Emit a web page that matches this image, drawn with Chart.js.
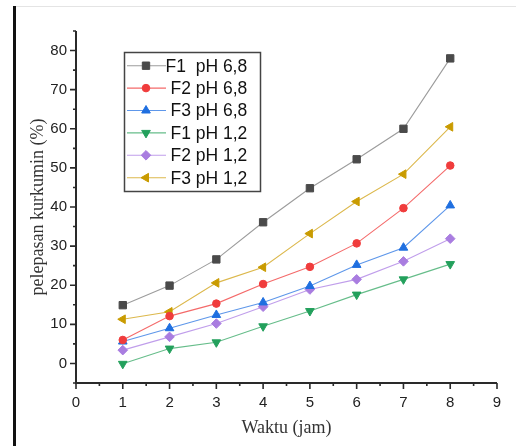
<!DOCTYPE html>
<html>
<head>
<meta charset="utf-8">
<script src="https://cdn.jsdelivr.net/npm/chart.js@4.4.0/dist/chart.umd.min.js"></script>
<style>
  html, body { margin: 0; padding: 0; background: #fff; }
  #wrap { position: relative; width: 516px; height: 446px; }
  #frameL { position: absolute; left: 13px; top: 6px; width: 3px; height: 440px; background: #111; }
  #frameT { position: absolute; left: 16px; top: 6px; width: 500px; height: 1px; background: #e4e4e4; }
  canvas { position: absolute; left: 0; top: 0; }
</style>
</head>
<body>
<div id="wrap">
  <canvas id="c" width="516" height="446"></canvas>
  <div id="frameL"></div>
  <div id="frameT"></div>
</div>
<script>
// ---- data ----
const times = [1, 2, 3, 4, 5, 6, 7, 8];
const seriesNames = ['F1  pH 6,8', 'F2 pH 6,8', 'F3 pH 6,8', 'F1 pH 1,2', 'F2 pH 1,2', 'F3 pH 1,2'];
const f1pH68 = [14.9, 19.9, 26.6, 36.1, 44.8, 52.2, 60.0, 78.0];
const f2pH68 = [6.0, 12.1, 15.3, 20.3, 24.7, 30.7, 39.7, 50.6];
const f3pH68 = [5.6, 9.0, 12.4, 15.6, 19.8, 25.2, 29.6, 40.4];
const f1pH12 = [-0.1, 3.8, 5.4, 9.5, 13.4, 17.6, 21.5, 25.4];
const f2pH12 = [3.4, 6.8, 10.2, 14.5, 18.9, 21.5, 26.1, 31.9];
const f3pH12 = [11.3, 13.2, 20.6, 24.6, 33.2, 41.4, 48.4, 60.5];
const xTicks = [0, 1, 2, 3, 4, 5, 6, 7, 8, 9];
const yTicks = [0, 10, 20, 30, 40, 50, 60, 70, 80];
const xMinorTicks = [0.5, 1.5, 2.5, 3.5, 4.5, 5.5, 6.5, 7.5, 8.5];
const yMinorTicks = [-5, 5, 15, 25, 35, 45, 55, 65, 75, 85];

// ---- styles ----
const styles = [
  { marker: '#4a4a4a', line: '#9c9c9c', pointStyle: 'rect', radius: 5.2, rotation: 0 },
  { marker: '#f03c3c', line: '#f46a6a', pointStyle: 'circle', radius: 3.8, rotation: 0 },
  { marker: '#1f6fe0', line: '#5e97ea', pointStyle: 'triangle', radius: 5, rotation: 0 },
  { marker: '#23a05c', line: '#66bd8a', pointStyle: 'triangle', radius: 5, rotation: 180 },
  { marker: '#a97de0', line: '#c09eeb', pointStyle: 'rectRot', radius: 4.8, rotation: 0 },
  { marker: '#c99b00', line: '#dcb84c', pointStyle: 'triangle', radius: 5, rotation: 270 }
];
const allValues = [f1pH68, f2pH68, f3pH68, f1pH12, f2pH12, f3pH12];

const datasets = allValues.map((vals, i) => ({
  label: seriesNames[i],
  data: times.map((t, k) => ({ x: t, y: vals[k] })),
  borderColor: styles[i].line,
  backgroundColor: styles[i].marker,
  pointBackgroundColor: styles[i].marker,
  pointBorderColor: styles[i].marker,
  pointBorderWidth: 1,
  borderWidth: 1.1,
  pointStyle: styles[i].pointStyle,
  pointRadius: styles[i].radius,
  pointRotation: styles[i].rotation,
  tension: 0
}));

function drawMarker(ctx, st, x, y) {
  ctx.save();
  ctx.fillStyle = st.marker;
  ctx.strokeStyle = st.marker;
  ctx.lineWidth = 1;
  if (Chart.helpers && Chart.helpers.drawPoint) {
    Chart.helpers.drawPoint(ctx, { pointStyle: st.pointStyle, radius: st.radius, rotation: st.rotation, borderWidth: 1 }, x, y);
  } else {
    ctx.beginPath(); ctx.arc(x, y, st.radius, 0, Math.PI * 2); ctx.fill();
  }
  ctx.restore();
}

const axesPlugin = {
  id: 'originAxes',
  afterDatasetsDraw(chart) {
    const ctx = chart.ctx;
    const xs = chart.scales.x, ys = chart.scales.y;
    const a = chart.chartArea;
    ctx.save();
    ctx.strokeStyle = '#2a2a2a';
    ctx.lineWidth = 2;
    ctx.beginPath();
    ctx.moveTo(a.left, a.top);
    ctx.lineTo(a.left, a.bottom);
    ctx.lineTo(a.right, a.bottom);
    ctx.stroke();
    ctx.lineWidth = 1.6;
    ctx.beginPath();
    yTicks.forEach(v => { const p = ys.getPixelForValue(v); ctx.moveTo(a.left, p); ctx.lineTo(a.left - 6, p); });
    yMinorTicks.forEach(v => { const p = ys.getPixelForValue(v); ctx.moveTo(a.left, p); ctx.lineTo(a.left - 3, p); });
    xTicks.forEach(v => { const p = xs.getPixelForValue(v); ctx.moveTo(p, a.bottom); ctx.lineTo(p, a.bottom + 6); });
    xMinorTicks.forEach(v => { const p = xs.getPixelForValue(v); ctx.moveTo(p, a.bottom); ctx.lineTo(p, a.bottom + 3); });
    ctx.stroke();
    ctx.restore();
  },
  afterDraw(chart) {
    const ctx = chart.ctx;
    ctx.save();
    // legend box
    ctx.strokeStyle = '#444';
    ctx.lineWidth = 1.5;
    ctx.strokeRect(124.5, 52.5, 136, 139);
    ctx.font = '17.5px "Liberation Sans", Arial, sans-serif';
    ctx.textBaseline = 'middle';
    ctx.textAlign = 'left';
    seriesNames.forEach((name, i) => {
      const y = 65.7 + i * 22.4;
      const st = styles[i];
      ctx.strokeStyle = st.line;
      ctx.lineWidth = 1.1;
      ctx.beginPath();
      ctx.moveTo(127, y);
      ctx.lineTo(166, y);
      ctx.stroke();
      drawMarker(ctx, st, 146, y);
      ctx.fillStyle = '#111';
      ctx.fillText(name, i === 0 ? 165.5 : 170.5, y + 1);
    });
    ctx.restore();
  }
};

new Chart(document.getElementById('c'), {
  type: 'line',
  data: { datasets },
  options: {
    responsive: false,
    animation: false,
    devicePixelRatio: 1,
    layout: { padding: { left: 0, right: 19, top: 31, bottom: 0 } },
    plugins: { legend: { display: false }, tooltip: { enabled: false } },
    scales: {
      x: {
        type: 'linear',
        min: 0, max: 9,
        grid: { display: false },
        border: { display: false },
        afterBuildTicks: s => { s.ticks = xTicks.map(v => ({ value: v })); },
        afterFit: s => { s.height = 63; },
        ticks: { color: '#222', padding: 3, font: { family: '"Liberation Sans", Arial, sans-serif', size: 15 } },
        title: { display: true, text: 'Waktu (jam)', color: '#333', padding: { top: 0, bottom: 7 },
          font: { family: '"Liberation Serif", "Times New Roman", serif', size: 18 } }
      },
      y: {
        type: 'linear',
        min: -5, max: 85,
        grid: { display: false },
        border: { display: false },
        afterBuildTicks: s => { s.ticks = yTicks.map(v => ({ value: v })); },
        afterFit: s => { s.width = 76; },
        ticks: { color: '#222', padding: 1, font: { family: '"Liberation Sans", Arial, sans-serif', size: 15 } },
        title: { display: true, text: 'pelepasan kurkumin (%)', color: '#333', padding: { top: 27, bottom: 0 },
          font: { family: '"Liberation Serif", "Times New Roman", serif', size: 18 } }
      }
    }
  },
  plugins: [axesPlugin]
});
</script>
</body>
</html>
